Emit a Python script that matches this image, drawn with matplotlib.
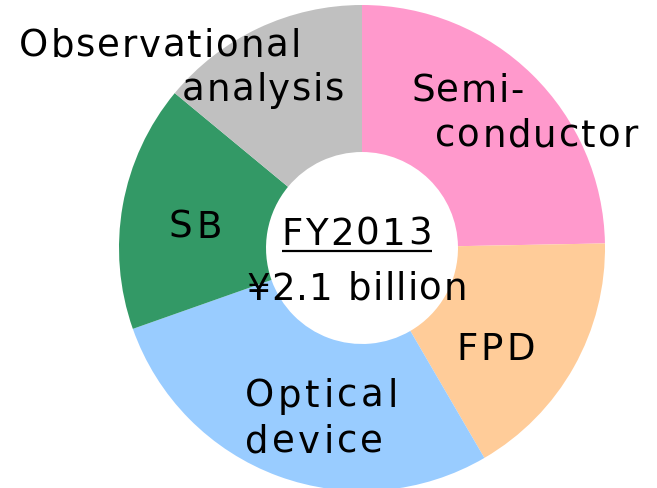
import matplotlib
matplotlib.use("Agg")
import matplotlib.pyplot as plt
from matplotlib.font_manager import FontProperties, findfont, get_font

# sales breakdown by business segment, FY2013
segments = ["Semiconductor", "FPD", "Optical device", "SB", "Observational analysis"]
shares = [24.7, 16.9, 28.0, 16.4, 14.0]
colors = ["#FF99CC", "#FFCC99", "#99CCFF", "#339966", "#C0C0C0"]

W, H = 657, 489
DPI = 100

fig = plt.figure(figsize=(W / DPI, H / DPI), dpi=DPI)
ax = fig.add_axes([0, 0, 1, 1])

cx, cy, r = 362, H - 249, 243
ax.pie(shares, colors=colors, startangle=90, counterclock=False,
       center=(cx, cy), radius=r, frame=True,
       wedgeprops=dict(width=r * 0.605, linewidth=0))
ax.set_xlim(0, W)
ax.set_ylim(0, H)
ax.set_aspect("equal")
ax.axis("off")

FS = 26.7
prop = FontProperties(family="DejaVu Sans", size=FS)
ft = get_font(findfont(prop))
ft.set_size(FS, 72)


def label(x, y, s, track=2.0):
    """Left-aligned text at baseline y (pixels from top), with letter spacing."""
    pos = x
    for ch in s:
        ax.text(pos, H - y, ch, fontproperties=prop, ha="left", va="baseline")
        adv = ft.load_char(ord(ch)).linearHoriAdvance / 65536
        pos += adv * DPI / 72 + track
    return pos - track


label(19, 57, "Observational", 1.9)
label(182, 101, "analysis", 1.7)
label(411, 102, "Semi-", 1.5)
label(435, 147, "conductor", 2.0)
label(168, 238, "SB", 4.5)
label(456, 360, "FPD", 3.5)
label(245, 407, "Optical", 3.6)
label(245, 453, "device", 3.2)

# centre caption
end = label(281, 245, "FY2013", 2.4)
ax.plot([282, end], [H - 252, H - 252], color="black", lw=1.6,
        solid_capstyle="butt")
label(246, 300, "¥2.1 billion", 1.4)

fig.savefig("out.png", dpi=DPI)
